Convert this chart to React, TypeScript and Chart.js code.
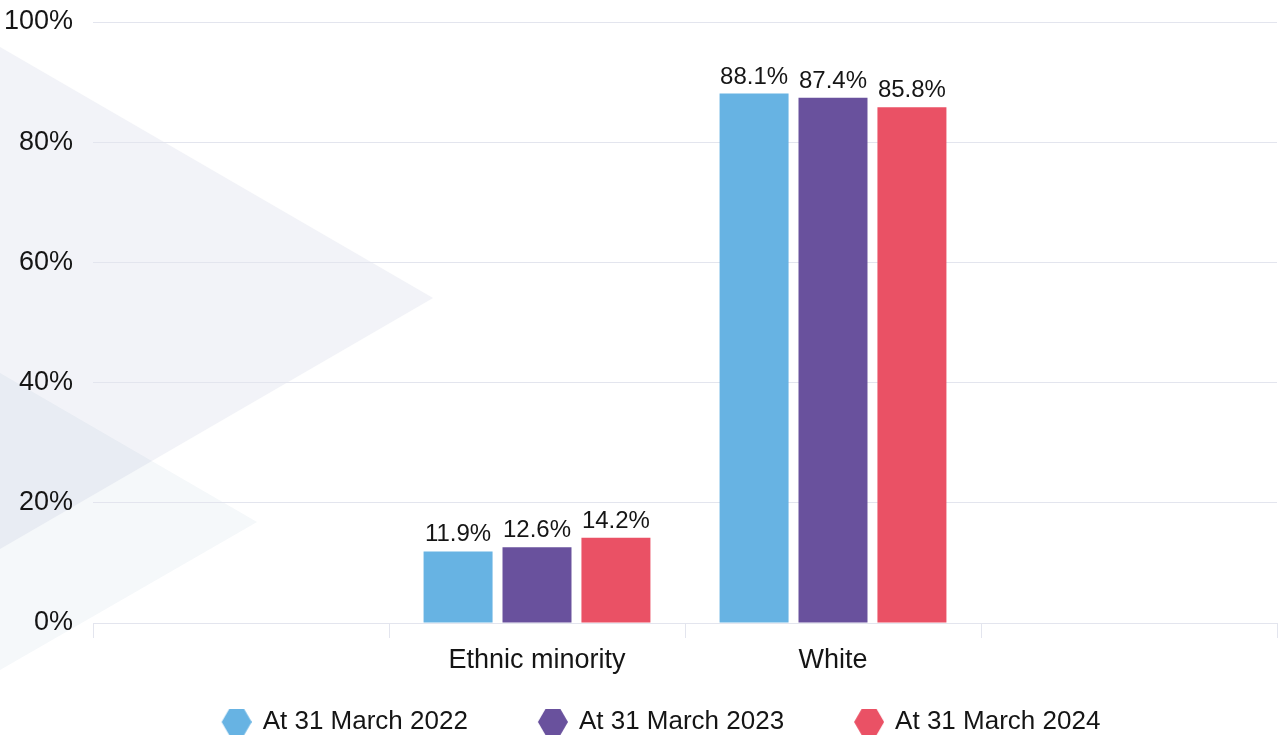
import React, { useEffect, useRef } from "react";
import { Chart, registerables } from "chart.js";

Chart.register(...registerables);

const categories = ["", "Ethnic minority", "White", ""];
const seriesLabels = ["At 31 March 2022", "At 31 March 2023", "At 31 March 2024"];
const values2022 = [null, 11.9, 88.1, null];
const values2023 = [null, 12.6, 87.4, null];
const values2024 = [null, 14.2, 85.8, null];
const seriesColors = ["#67b3e3", "#69519d", "#ea5165"];
const yTicks = [0, 20, 40, 60, 80, 100];

const FONT = "'Liberation Sans', Arial, Helvetica, sans-serif";
const TEXT = "#151515";
const GRID = "#e3e5ee";

// legend box geometry: wide box so the hexagon sits next to its text
const LEGEND_BOX = 88;
const LEGEND_FONT = 26;

function hexagon(color: string): HTMLCanvasElement {
  const c = document.createElement("canvas");
  c.width = 92;
  c.height = 28;
  const ctx = c.getContext("2d")!;
  const r = 15;
  const cx = 46 + (LEGEND_BOX / 2 - LEGEND_FONT / 2);
  const cy = 14;
  ctx.beginPath();
  for (let i = 0; i < 6; i++) {
    const a = (Math.PI / 3) * i;
    const x = cx + r * Math.cos(a);
    const y = cy + r * Math.sin(a);
    if (i === 0) ctx.moveTo(x, y);
    else ctx.lineTo(x, y);
  }
  ctx.closePath();
  ctx.fillStyle = color;
  ctx.fill();
  return c;
}

const backgroundPlugin = {
  id: "bgTriangles",
  beforeDraw(chart: any) {
    const ctx = chart.ctx as CanvasRenderingContext2D;
    ctx.save();
    ctx.fillStyle = "#ffffff";
    ctx.fillRect(0, 0, chart.width, chart.height);
    ctx.beginPath();
    ctx.moveTo(0, 373);
    ctx.lineTo(257, 522);
    ctx.lineTo(0, 670);
    ctx.closePath();
    ctx.fillStyle = "#f5f8fa";
    ctx.fill();
    ctx.globalCompositeOperation = "multiply";
    ctx.beginPath();
    ctx.moveTo(0, 47);
    ctx.lineTo(433, 298);
    ctx.lineTo(0, 549);
    ctx.closePath();
    ctx.fillStyle = "#f2f3f8";
    ctx.fill();
    ctx.restore();
  },
};

const valueLabelPlugin = {
  id: "valueLabels",
  afterDatasetsDraw(chart: any) {
    const ctx = chart.ctx as CanvasRenderingContext2D;
    ctx.save();
    ctx.font = `24px ${FONT}`;
    ctx.fillStyle = TEXT;
    ctx.textAlign = "center";
    ctx.textBaseline = "alphabetic";
    chart.data.datasets.forEach((ds: any, di: number) => {
      const meta = chart.getDatasetMeta(di);
      meta.data.forEach((bar: any, i: number) => {
        const v = ds.data[i];
        if (v === null || v === undefined) return;
        ctx.fillText(`${v.toFixed(1)}%`, bar.x, bar.y - 10);
      });
    });
    ctx.restore();
  },
};

export default function App() {
  const ref = useRef<HTMLCanvasElement | null>(null);

  useEffect(() => {
    if (!ref.current) return;
    const allValues = [values2022, values2023, values2024];
    const chart = new Chart(ref.current, {
      type: "bar",
      data: {
        labels: categories,
        datasets: allValues.map((vals, i) => ({
          label: seriesLabels[i],
          data: vals as any,
          backgroundColor: seriesColors[i],
          borderWidth: 0,
          categoryPercentage: 0.8,
          barPercentage: 0.874,
        })),
      },
      options: {
        animation: false,
        responsive: false,
        maintainAspectRatio: false,
        layout: { padding: { left: -15, right: 5, top: 22, bottom: -7 } },
        scales: {
          x: {
            offset: true,
            grid: {
              drawOnChartArea: false,
              drawTicks: true,
              tickLength: 15,
              color: GRID,
            },
            border: { display: true, color: GRID },
            ticks: {
              color: TEXT,
              font: { family: FONT, size: 27 },
              padding: 6,
              maxRotation: 0,
              autoSkip: false,
            },
            afterFit(axis: any) {
              axis.height = 76;
            },
          },
          y: {
            min: 0,
            max: 100,
            afterBuildTicks(axis: any) {
              axis.ticks = yTicks.map((v) => ({ value: v }));
            },
            afterFit(axis: any) {
              axis.width = 108;
              axis.paddingTop = 0;
              axis.paddingBottom = 0;
            },
            grid: { color: GRID, drawTicks: false },
            border: { display: false },
            ticks: {
              color: TEXT,
              font: { family: FONT, size: 27 },
              padding: 20,
              callback: (v: any) => `${v}%`,
            },
          },
        },
        plugins: {
          legend: {
            position: "bottom",
            labels: {
              usePointStyle: true,
              pointStyleWidth: LEGEND_BOX,
              color: TEXT,
              font: { family: FONT, size: LEGEND_FONT },
              padding: 10,
              generateLabels: (chart: any) =>
                chart.data.datasets.map((ds: any, i: number) => ({
                  text: ds.label,
                  fillStyle: seriesColors[i],
                  strokeStyle: seriesColors[i],
                  lineWidth: 0,
                  pointStyle: hexagon(seriesColors[i]),
                  hidden: false,
                  datasetIndex: i,
                  fontColor: TEXT,
                })),
            },
          },
          tooltip: { enabled: false },
        },
      },
      plugins: [backgroundPlugin, valueLabelPlugin],
    });
    return () => chart.destroy();
  }, []);

  return (
    <div style={{ position: "fixed", left: 0, top: 0, width: 1282, height: 738 }}>
      <canvas ref={ref} width={1282} height={738} style={{ display: "block" }} />
    </div>
  );
}
